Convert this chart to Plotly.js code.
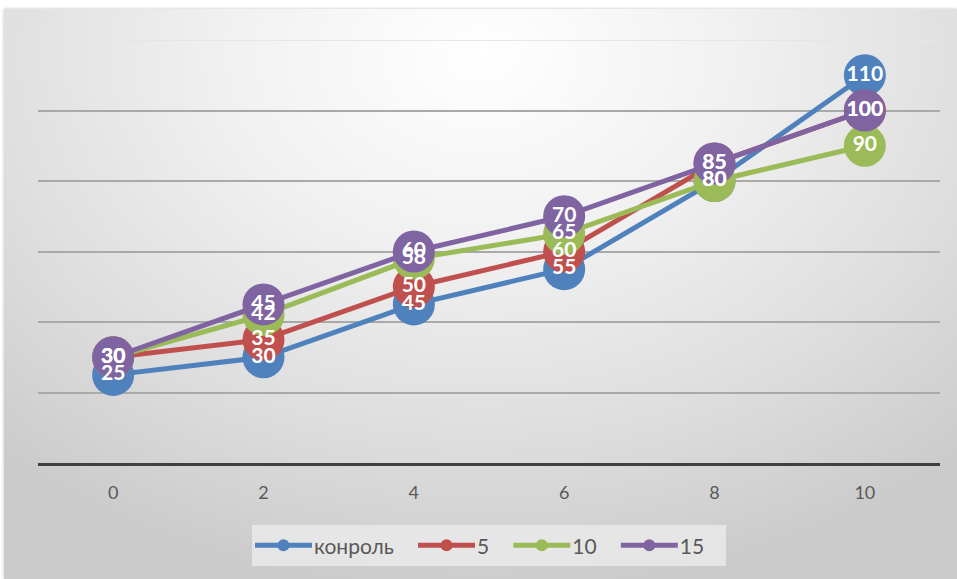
<!DOCTYPE html>
<html><head><meta charset="utf-8">
<script src="https://cdn.plot.ly/plotly-3.0.1.min.js"></script>
<style>
html,body{margin:0;padding:0;background:#fff;}
#wrap{position:relative;width:957px;height:579px;overflow:hidden;}
#bg{position:absolute;left:4px;top:9px;width:953px;height:570px;
 background:radial-gradient(ellipse 75% 95% at 50% 8%, #ffffff 0%, #f1f1f1 35%, #dedede 70%, #cbcbcb 100%);
 box-shadow:0 0 3px rgba(0,0,0,0.25);}
#chart{position:absolute;left:0;top:0;width:957px;height:579px;}
</style></head>
<body><div id="wrap"><div id="bg"></div><div id="chart"></div></div>
<script>
const categories = [0, 2, 4, 6, 8, 10];
const seriesNames = ['конроль', '5', '10', '15'];
const control = [25, 30, 45, 55, 80, 110];
const s5 = [30, 35, 50, 60, 85, 100];
const s10 = [30, 42, 58, 65, 80, 90];
const s15 = [30, 45, 60, 70, 85, 100];
const colors = ['#4f81bd', '#c0504d', '#9bbb59', '#8064a2'];

const allSeries = [control, s5, s10, s15];
const pad = '\u00a0\u00a0\u00a0';
const traces = [];
allSeries.forEach((vals, i) => {
  traces.push({
    x: categories, y: vals, name: seriesNames[i] + pad, type: 'scatter', mode: 'lines+markers',
    line: {color: colors[i], width: 5},
    marker: {color: colors[i], size: 42, line: {width: 0}},
    cliponaxis: false, hoverinfo: 'skip'
  });
});
allSeries.forEach((vals, i) => {
  traces.push({
    x: categories, y: vals, type: 'scatter', mode: 'text', showlegend: false,
    text: vals.map(String), textposition: 'middle center',
    textfont: {family: 'Lato, "Open Sans", sans-serif', size: 21, color: '#ffffff', weight: 'bold'},
    cliponaxis: false, hoverinfo: 'skip'
  });
});

const layout = {
  width: 957, height: 579,
  paper_bgcolor: 'rgba(0,0,0,0)', plot_bgcolor: 'rgba(0,0,0,0)',
  margin: {l: 38, r: 17, t: 40, b: 116},
  showlegend: true,
  xaxis: {
    range: [-1, 11], tickvals: categories, ticktext: categories.map(String),
    showgrid: false, zeroline: false, showline: true, linecolor: '#404040', linewidth: 3,
    ticks: '', tickfont: {family: 'Lato, "Open Sans", sans-serif', size: 18, color: '#595959'},
    ticklabelstandoff: 11
  },
  yaxis: {
    range: [0, 120], dtick: 20, showticklabels: false, showgrid: true,
    gridcolor: '#a9a9a9', gridwidth: 2, zeroline: false, showline: false, ticks: ''
  },
  shapes: [{type: 'line', xref: 'paper', yref: 'y', x0: 0, x1: 1, y0: 120, y1: 120,
            line: {color: '#e6e6e6', width: 2}, layer: 'below'}],
  legend: {
    orientation: 'h', x: 0.5, xanchor: 'center', xref: 'paper',
    y: 0.093, yanchor: 'top', yref: 'container',
    bgcolor: 'rgba(232,232,232,0.9)', borderwidth: 0,
    font: {family: 'Lato, "Open Sans", sans-serif', size: 21, color: '#595959'},
    itemsizing: 'constant', itemwidth: 52
  }
};
Plotly.newPlot('chart', traces, layout, {displayModeBar: false, staticPlot: true}).then(gd => {
  gd.querySelectorAll('.legend .legendlines path').forEach(p => p.setAttribute('d', 'M3,0h57'));
  gd.querySelectorAll('.legend .legendpoints path').forEach(p => p.setAttribute('transform', 'translate(31.5,0)'));
});
</script></body></html>
